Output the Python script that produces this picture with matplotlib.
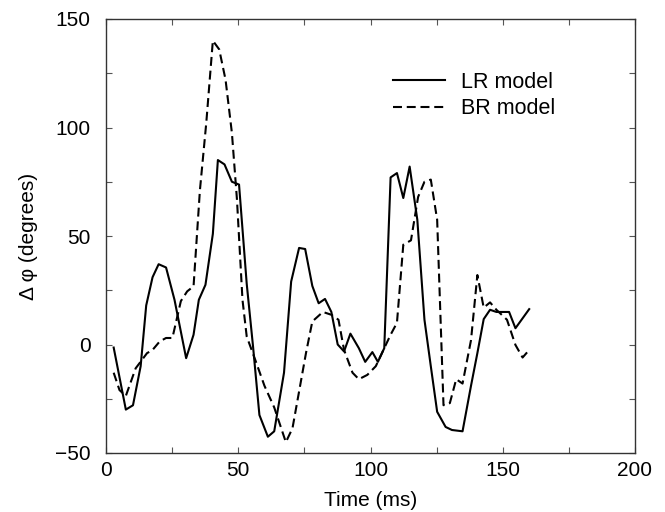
import matplotlib
matplotlib.use("Agg")
import matplotlib.pyplot as plt
from matplotlib.ticker import MultipleLocator

plt.rcParams['font.family'] = ['Liberation Sans', 'DejaVu Sans']

lr_t = [2.9, 7.5, 10.2, 13.1, 15.2, 17.6, 19.9, 22.7, 25.9, 30.3, 33.1, 35.1, 37.6, 40.4,
        42.3, 44.8, 47.6, 50.3, 53.2, 55.6, 58.0, 61.2, 63.6, 67.3, 70.0, 73.0, 75.3, 78.0,
        80.4, 82.8, 85.2, 87.6, 90.0, 92.4, 95.6, 98.0, 100.7, 102.8, 105.2, 107.6, 110.0,
        112.4, 114.8, 117.7, 120.4, 122.8, 125.2, 128.4, 130.8, 134.8, 138.0, 140.4, 142.8,
        145.2, 147.6, 152.4, 154.8, 160.0]
lr_phi = [-1.4, -30, -28, -10, 18, 31, 37, 35.5, 20.6, -6.3, 4.5, 20.6, 27.5, 51,
          85, 83, 75, 73.7, 28, -1, -32.5, -42.5, -40, -13, 29, 44.5, 44, 27,
          19, 21, 15, 0, -3.2, 5, -1.7, -8, -3.5, -8, -1.7, 77, 79,
          67.5, 82, 57.5, 11.4, -10, -31, -38, -39.4, -40, -19, -4, 11.7,
          16, 15, 15, 7.5, 16.3]

br_t = [2.9, 5.1, 7.5, 11.2, 15.5, 17.6, 20.3, 22.7, 25.1, 28.3, 30.7, 33.1, 35.5, 37.9,
        40.4, 42.8, 45.2, 47.6, 49.5, 51.6, 53.2, 56.4, 59.9, 63.6, 68.0, 70.5, 75.6, 78.0,
        82.0, 85.2, 87.9, 90.0, 93.2, 95.6, 98.8, 102.0, 105.2, 107.6, 110.0, 112.4, 115.3,
        118.0, 120.4, 122.8, 125.2, 127.6, 130.0, 132.4, 134.8, 138.0, 140.4, 142.8, 145.2,
        147.6, 151.6, 154.8, 157.5, 160.0]
br_phi = [-13, -21, -23.7, -11, -4, -2.5, 1.4, 3, 3, 20, 24.5, 26.8, 71, 102,
          140, 136, 122, 97.5, 67, 20.6, 3.7, -7, -19, -29, -45, -38.6, -4, 10.6,
          15, 13.7, 11.4, -2.5, -13, -16, -14, -10, -1.7, 4.5, 10, 46, 48,
          68, 75, 76, 57.5, -28, -27, -16, -18, 2, 32, 17, 19.4,
          16, 11.4, -0.2, -6, -2.5]

W, H = 665, 512
fig = plt.figure(figsize=(W / 100, H / 100), dpi=100)
ax = fig.add_axes([106 / W, 1 - 453 / H, 529 / W, 434 / H])
ax.plot(lr_t, lr_phi, color='black', lw=1.5, label='LR model')
ax.plot(br_t, br_phi, color='black', lw=1.5, ls=(0, (4.3, 2.3)), label='BR model')

ax.set_xlim(0, 200)
ax.set_ylim(-50, 150)
ax.xaxis.set_major_locator(MultipleLocator(50))
ax.xaxis.set_minor_locator(MultipleLocator(25))
ax.yaxis.set_major_locator(MultipleLocator(50))
ax.yaxis.set_minor_locator(MultipleLocator(25))
for s in ax.spines.values():
    s.set_linewidth(1.0)
    s.set_color('#333333')
ax.tick_params(which='both', direction='in', top=True, right=True, labelsize=15,
               length=4, width=0.8, color='#555555')
ax.tick_params(axis='x', which='both', pad=6)
ax.tick_params(axis='y', which='both', pad=11)
ax.set_xlabel('Time (ms)', fontsize=15)
ax.xaxis.set_label_coords(0.5, (453 - 500) / 434)
ax.xaxis.label.set_va('center')
ax.set_ylabel('Δ φ (degrees)', fontsize=15)
ax.yaxis.set_label_coords((28 - 106) / 529, 0.5)
ax.yaxis.label.set_va('center')
ax.legend(loc='upper left', bbox_to_anchor=(393 / W, 1 - 72 / H),
          bbox_transform=fig.transFigure, frameon=False, fontsize=15.5,
          borderpad=0, borderaxespad=0,
          handlelength=2.4, handletextpad=0.75, labelspacing=0.25)

fig.savefig('out.png', dpi=100)
